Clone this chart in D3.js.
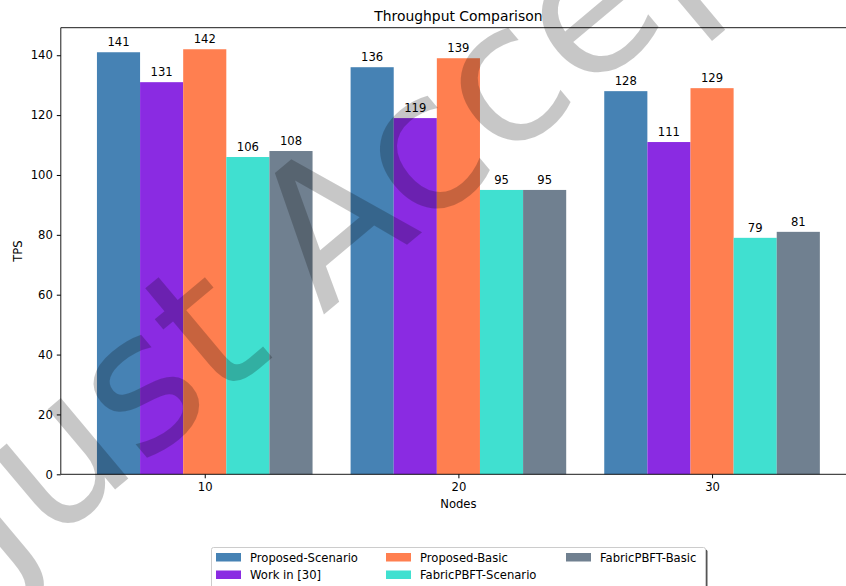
<!DOCTYPE html>
<html>
<head>
<meta charset="utf-8">
<script src="https://cdn.jsdelivr.net/npm/d3@7"></script>
<style>
  body { margin: 0; background: #fff; }
  text { font-family: "DejaVu Sans", sans-serif; }
</style>
</head>
<body>
<svg id="chart"></svg>
<script>
const width = 846;
const height = 586;

// data
const nodes = ['10', '20', '30'];
const series = ['Proposed-Scenario', 'Work in [30]', 'Proposed-Basic', 'FabricPBFT-Scenario', 'FabricPBFT-Basic'];
const colors = ['#4682b4', '#8a2be2', '#ff7f50', '#40e0d0', '#708090'];
const proposedScenario = [141, 136, 128];
const workIn30 = [131, 119, 111];
const proposedBasic = [142, 139, 129];
const fabricScenario = [106, 95, 79];
const fabricBasic = [108, 95, 81];
const yTicks = [0, 20, 40, 60, 80, 100, 120, 140];

const values = [proposedScenario, workIn30, proposedBasic, fabricScenario, fabricBasic];
const barW = 0.17;

const svg = d3.select('#chart').attr('width', width).attr('height', height);

// axes area (right edge runs off the image)
const axLeft = 60.8, axRight = 856, axTop = 27.7, axBottom = 474.3;

const x = d3.scaleLinear().domain([-0.5675, 2.5675]).range([axLeft, axRight]);
const y = d3.scaleLinear().domain([0, 149.2]).range([axBottom, axTop]);

// bars + value labels
series.forEach((s, j) => {
    svg.append('g').selectAll('rect')
        .data(values[j])
        .enter().append('rect')
        .attr('x', (d, i) => x(i + (j - 2) * barW - barW / 2))
        .attr('y', d => y(d))
        .attr('width', x(barW) - x(0))
        .attr('height', d => y(0) - y(d))
        .attr('fill', colors[j]);

    svg.append('g').selectAll('text')
        .data(values[j])
        .enter().append('text')
        .attr('x', (d, i) => x(i + (j - 2) * barW))
        .attr('y', d => y(d) - 6)
        .attr('text-anchor', 'middle')
        .attr('font-size', 11.6)
        .attr('fill', '#000')
        .text(d => d);
});

// y axis
const yAxis = svg.append('g')
    .attr('transform', `translate(${axLeft},0)`)
    .call(d3.axisLeft(y).tickValues(yTicks).tickSize(4).tickPadding(4));
yAxis.select('.domain').remove();
yAxis.selectAll('text').attr('font-size', 11.6).attr('font-family', 'DejaVu Sans').attr('fill', '#000');

// x axis
const xAxis = svg.append('g')
    .attr('transform', `translate(0,${axBottom})`)
    .call(d3.axisBottom(x).tickValues([0, 1, 2]).tickFormat((d, i) => nodes[i]).tickSize(4).tickPadding(4));
xAxis.select('.domain').remove();
xAxis.selectAll('text').attr('font-size', 11.6).attr('font-family', 'DejaVu Sans').attr('fill', '#000');

// spines
svg.append('line').attr('x1', axLeft).attr('x2', axLeft).attr('y1', axTop).attr('y2', axBottom)
    .attr('stroke', '#000').attr('stroke-width', 0.9);
svg.append('line').attr('x1', axLeft).attr('x2', width).attr('y1', axBottom).attr('y2', axBottom)
    .attr('stroke', '#000').attr('stroke-width', 0.9);
svg.append('line').attr('x1', axLeft).attr('x2', width).attr('y1', axTop).attr('y2', axTop)
    .attr('stroke', '#000').attr('stroke-width', 0.9);

// title and labels
svg.append('text').attr('x', (axLeft + axRight) / 2).attr('y', 21).attr('text-anchor', 'middle')
    .attr('font-size', 13.9).text('Throughput Comparison');
svg.append('text').attr('x', (axLeft + axRight) / 2).attr('y', 508).attr('text-anchor', 'middle')
    .attr('font-size', 11.6).text('Nodes');
svg.append('text').attr('transform', `translate(22,${(axTop + axBottom) / 2}) rotate(-90)`)
    .attr('text-anchor', 'middle').attr('font-size', 11.6).text('TPS');

// legend (3 columns, with shadow)
const lg = svg.append('g').attr('transform', 'translate(211,547)');
lg.append('rect').attr('x', 2.5).attr('y', 2.5).attr('width', 494).attr('height', 50).attr('rx', 2)
    .attr('fill', '#555');
lg.append('rect').attr('x', 0.5).attr('y', 0.5).attr('width', 494).attr('height', 50).attr('rx', 2)
    .attr('fill', '#fff').attr('stroke', '#ccc');
const colX = [5, 175, 355];
series.forEach((s, j) => {
    const c = Math.floor(j / 2), r = j % 2;
    const g = lg.append('g').attr('transform', `translate(${colX[c]},${6 + r * 17.5})`);
    g.append('rect').attr('width', 25).attr('height', 8.5).attr('fill', colors[j]);
    g.append('text').attr('x', 34).attr('y', 8.8).attr('font-size', 11.6).text(s);
});

// watermark
svg.append('text')
    .attr('transform', 'translate(5,582) rotate(-40)')
    .attr('font-family', 'DejaVu Sans')
    .attr('font-size', 192)
    .attr('fill', '#000')
    .attr('fill-opacity', 0.22)
    .text('Just Accepted');
</script>
</body>
</html>
